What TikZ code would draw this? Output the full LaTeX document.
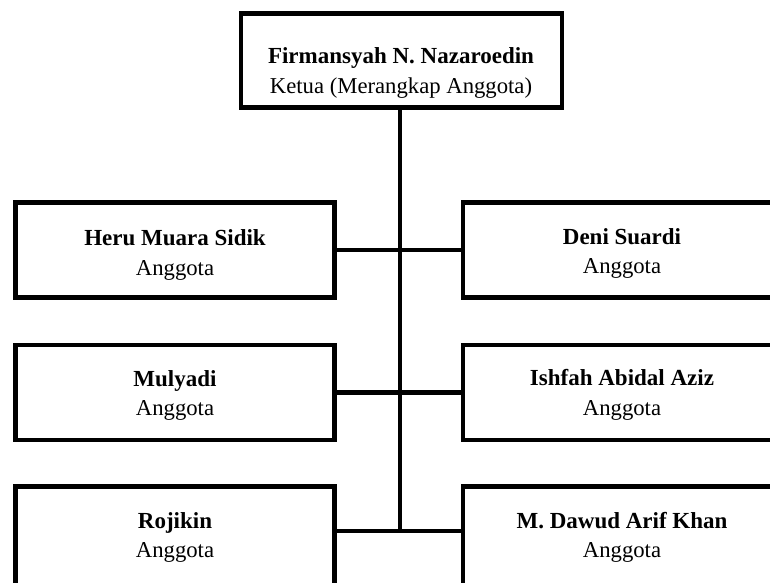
\documentclass[tikz,border=0pt]{standalone}
\usepackage{fontspec}
\setmainfont{Liberation Serif}
\begin{document}
\begin{tikzpicture}[x=1pt,y=-1pt,
  box/.style={draw=black,line width=4.5pt,rectangle,inner sep=0pt,fill=white},
  conn/.style={draw=black,line width=4.5pt},
  nm/.style={font=\fontsize{23}{30}\selectfont\bfseries,anchor=base,inner sep=0pt},
  rl/.style={font=\fontsize{22.7}{30}\selectfont,anchor=base,inner sep=0pt}]
\clip (0,0) rectangle (770,582);
\fill[white] (0,0) rectangle (770,582);
% boxes
\node[box,minimum width=321pt,minimum height=94pt] (top) at (401.5,60.5) {};
\node[box,minimum width=319pt,minimum height=95pt] (l1) at (175,250) {};
\node[box,minimum width=319pt,minimum height=95pt] (l2) at (175,392.5) {};
\node[box,minimum width=319pt,minimum height=100pt] (l3) at (175,536.5) {};
\node[box,minimum width=324pt,minimum height=95pt] (r1) at (625,250) {};
\node[box,minimum width=324pt,minimum height=95pt] (r2) at (625,392.5) {};
\node[box,minimum width=324pt,minimum height=100pt] (r3) at (625,536.5) {};
% connectors
\coordinate (tb) at (400,531);
\draw[conn] (top.south -| tb) -- (tb);
\draw[conn] (l1.east) -- (r1.west);
\draw[conn] (l2.east) -- (r2.west);
\draw[conn] (l3.east |- tb) -- (r3.west |- tb);
% texts
\node[nm] (topn) at (401,63) {Firmansyah N. Nazaroedin};
\node[rl] (topr) at (401,93) {Ketua (Merangkap Anggota)};
\node[nm] (l1n) at (175,245) {Heru Muara Sidik};
\node[rl] (l1r) at (175,275) {Anggota};
\node[nm] (l2n) at (175,386) {Mulyadi};
\node[rl] (l2r) at (175,415) {Anggota};
\node[nm] (l3n) at (175,528) {Rojikin};
\node[rl] (l3r) at (175,557) {Anggota};
\node[nm] (r1n) at (622,244) {Deni Suardi};
\node[rl] (r1r) at (622,273) {Anggota};
\node[nm] (r2n) at (622,385) {Ishfah Abidal Aziz};
\node[rl] (r2r) at (622,415) {Anggota};
\node[nm] (r3n) at (622,528) {M. Dawud Arif Khan};
\node[rl] (r3r) at (622,557) {Anggota};
\end{tikzpicture}
\end{document}
